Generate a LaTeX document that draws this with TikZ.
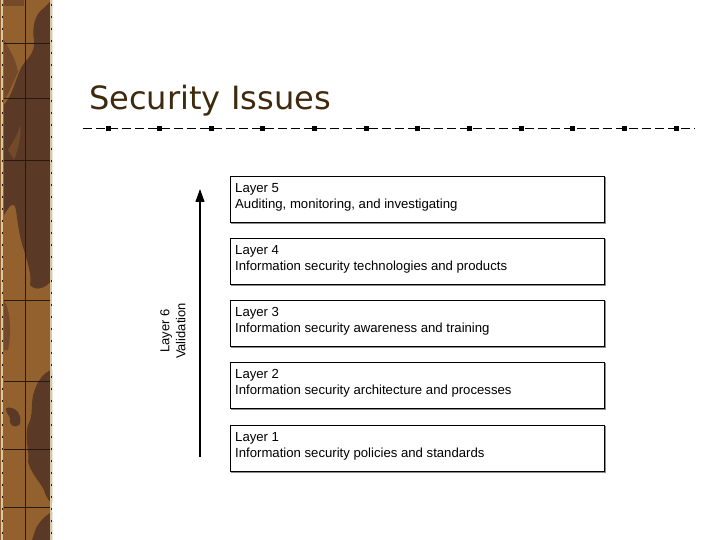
\documentclass[tikz,border=0pt]{standalone}
\usepackage{fontspec}
\setmainfont{Liberation Sans}
\newfontfamily\titlefont{DejaVu Sans}
\usetikzlibrary{arrows.meta}
\definecolor{stripbrown}{HTML}{93612D}
\definecolor{stripdark}{HTML}{5A3A27}
\definecolor{stripmid}{HTML}{73492A}
\definecolor{gridline}{HTML}{2A180C}
\definecolor{framebeige}{HTML}{D8C9A2}
\definecolor{titlebrown}{HTML}{3F2A0E}
\tikzset{
  layerbox/.style={draw=black, line width=0.9bp, minimum width=374bp, minimum height=46bp,
    anchor=north west, inner sep=0pt},
  layertext/.style={anchor=north west, align=left, font=\fontsize{13.2}{16}\selectfont, inner sep=0pt},
  shadowline/.style={draw=black!45, line width=1bp},
  sepsq/.style={fill=black, minimum size=5bp, inner sep=0pt},
}
\begin{document}
\begin{tikzpicture}[x=1bp,y=-1bp]
\useasboundingbox (0,0) rectangle (720,540);
% left decorative strip
\fill[stripbrown] (0,0) rectangle (52,540);
% upper dark figure
\fill[stripdark] (52,0) -- (44,8) .. controls (34,14) and (32,30) .. (34,40)
  .. controls (36,55) and (24,60) .. (20,70) .. controls (14,85) and (12,95) .. (4,105)
  -- (4,215)
  .. controls (10,205) and (14,200) .. (16,210) .. controls (18,225) and (20,240) .. (24,250)
  .. controls (28,265) and (32,275) .. (30,285)
  .. controls (36,292) and (46,288) .. (52,280) -- cycle;
\fill[stripmid] (4,40) .. controls (10,50) and (16,60) .. (18,72) .. controls (12,85) and (8,95) .. (4,100) -- cycle;
\fill[stripmid] (8,150) .. controls (14,140) and (18,135) .. (20,125) .. controls (22,135) and (18,150) .. (14,160) -- cycle;
\fill[stripmid] (4,0) rectangle (24,6);
% lower dark figure
\fill[stripdark] (52,370) .. controls (44,372) and (38,380) .. (34,392)
  .. controls (30,405) and (34,415) .. (28,425) .. controls (24,440) and (30,450) .. (28,462)
  .. controls (32,475) and (40,482) .. (44,490) .. controls (46,498) and (50,502) .. (52,503) -- cycle;
\fill[stripdark] (6,408) .. controls (14,406) and (22,412) .. (20,424)
  .. controls (14,430) and (8,424) .. (10,418) .. controls (8,414) and (6,412) .. cycle;
\fill[stripmid] (4,300) .. controls (10,310) and (12,330) .. (8,350) -- (4,350) -- cycle;
\fill[stripdark] (36,528) .. controls (42,518) and (48,514) .. (52,512) -- (52,540) -- (32,540) -- cycle;
\foreach \yy in {43,98,160,300,381,449,507}
  \draw[gridline, line width=0.8bp] (4,\yy) -- (50,\yy);
\draw[gridline, line width=0.8bp] (25,0) -- (25,540);
\draw[framebeige, line width=2bp] (51,0) -- (51,540);
\draw[framebeige, line width=2bp] (2,0) -- (2,540);
\draw[gridline, line width=1bp, dash pattern=on 2bp off 10bp] (2,4) -- (2,540);
\draw[gridline, line width=1bp, dash pattern=on 2bp off 10bp] (51,4) -- (51,540);
% title
\node[anchor=base west, inner sep=0pt, text=titlebrown, font=\titlefont\fontsize{32.2}{33}\selectfont] (title) at (89,110) {Security Issues};
% separator
\coordinate (sepL) at (83,129);
\coordinate (sepR) at (695,129);
\draw[black, line width=1bp, dash pattern=on 9bp off 4bp] (sepL) -- (sepR);
\foreach \k in {0,...,11}
  \node[sepsq] (sq\k) at (108+51.64*\k,129) {};
% boxes
\foreach \n/\yy/\txt in {5/176/{Auditing, monitoring, and investigating},
                         4/238/{Information security technologies and products},
                         3/300/{Information security awareness and training},
                         2/362/{Information security architecture and processes},
                         1/425/{Information security policies and standards}} {
  \draw[shadowline] (231,\yy+47.5) -- (605,\yy+47.5) -- (605,\yy+1);
  \node[layerbox] (L\n) at (230,\yy) {};
  \node[layertext] (T\n) at (235,\yy+7) {Layer \n\\\txt};
}
% validation arrow
\coordinate (abot) at (200,457);
\coordinate (atop) at (200,189);
\draw[line width=1.2bp, -{Triangle[length=13bp,width=9bp]}] (abot) -- (atop);
\node[rotate=90, align=center, font=\fontsize{13}{16}\selectfont, inner sep=0pt] (val) at (173,331) {Layer 6\\Validation};
\end{tikzpicture}
\end{document}
